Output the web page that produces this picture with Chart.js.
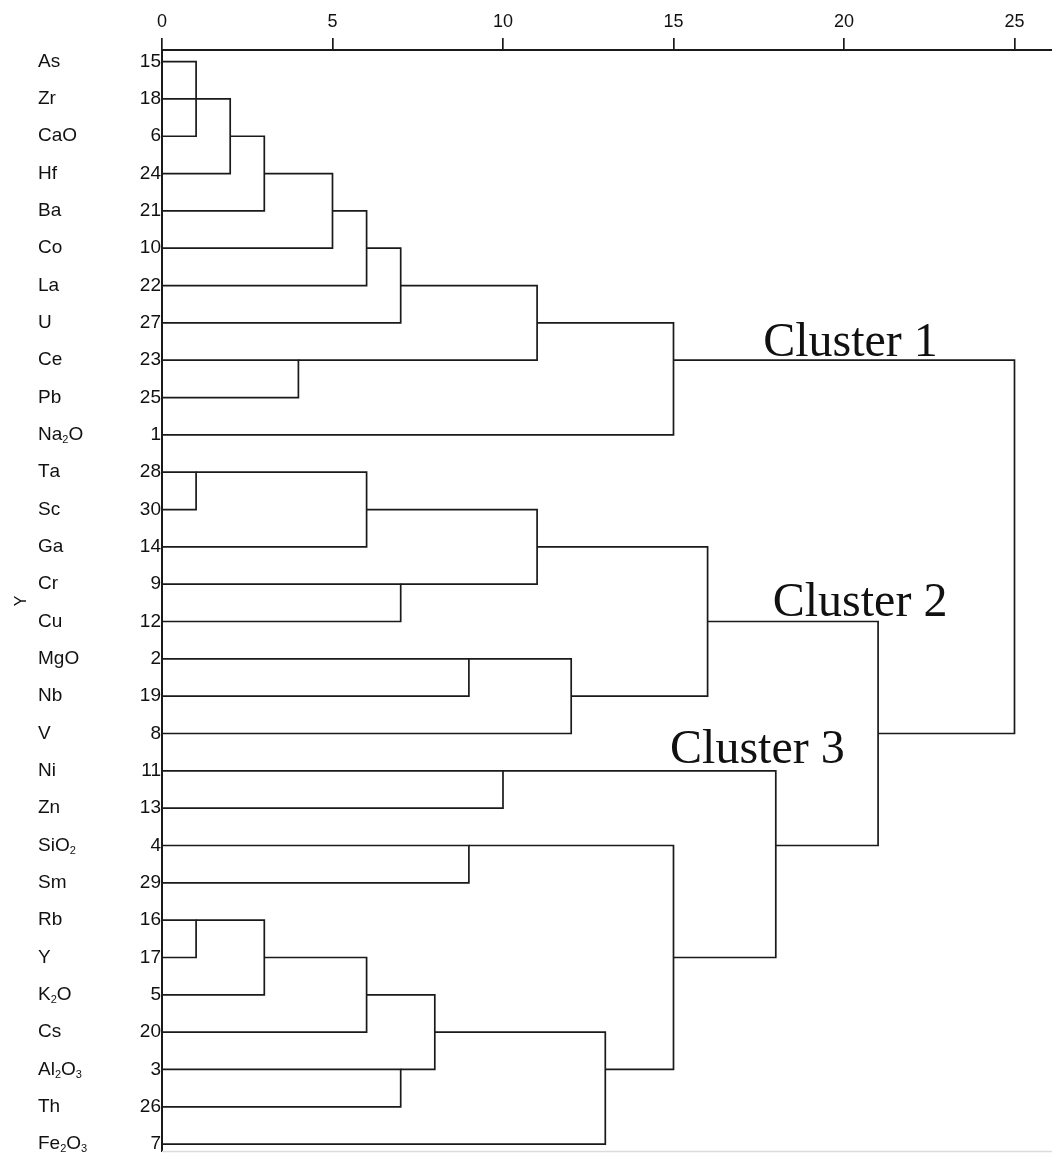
<!DOCTYPE html>
<html>
<head>
<meta charset="utf-8">
<script src="https://cdn.jsdelivr.net/npm/chart.js@4/dist/chart.umd.min.js"></script>
<style>
  html, body { margin: 0; padding: 0; background: #fff; }
  canvas { display: block; }
</style>
</head>
<body>
<canvas id="dendro" width="1052" height="1164"></canvas>
<script>
// Variables in dendrogram order (top to bottom) and their case numbers
const variables = ['As','Zr','CaO','Hf','Ba','Co','La','U','Ce','Pb','Na2O',
  'Ta','Sc','Ga','Cr','Cu','MgO','Nb','V','Ni','Zn','SiO2','Sm',
  'Rb','Y','K2O','Cs','Al2O3','Th','Fe2O3'];
const caseNumbers = [15,18,6,24,21,10,22,27,23,25,1,28,30,14,9,12,2,19,8,11,13,4,29,16,17,5,20,3,26,7];

// Rescaled distance axis ticks
const distanceTicks = [0, 5, 10, 15, 20, 25];

// Agglomeration steps: [left member, right member, rescaled distance]
// Members are variable names or '#k' for the cluster formed at step k
const merges = [
  ['As', 'CaO', 1],      // #0
  ['#0', 'Zr', 1],       // #1
  ['#1', 'Hf', 2],       // #2
  ['#2', 'Ba', 3],       // #3
  ['#3', 'Co', 5],       // #4
  ['#4', 'La', 6],       // #5
  ['#5', 'U', 7],        // #6
  ['Ce', 'Pb', 4],       // #7
  ['#6', '#7', 11],      // #8
  ['#8', 'Na2O', 15],    // #9
  ['Ta', 'Sc', 1],       // #10
  ['#10', 'Ga', 6],      // #11
  ['Cr', 'Cu', 7],       // #12
  ['#11', '#12', 11],    // #13
  ['MgO', 'Nb', 9],      // #14
  ['#14', 'V', 12],      // #15
  ['#13', '#15', 16],    // #16
  ['Ni', 'Zn', 10],      // #17
  ['SiO2', 'Sm', 9],     // #18
  ['Rb', 'Y', 1],        // #19
  ['#19', 'K2O', 3],     // #20
  ['#20', 'Cs', 6],      // #21
  ['Al2O3', 'Th', 7],    // #22
  ['#21', '#22', 8],     // #23
  ['#23', 'Fe2O3', 13],  // #24
  ['#18', '#24', 15],    // #25
  ['#17', '#25', 18],    // #26
  ['#16', '#26', 21],    // #27
  ['#9', '#27', 25]      // #28
];

const clusterNames = ['Cluster 1', 'Cluster 2', 'Cluster 3'];

// Each step becomes one bracket: child stubs joined by a vertical link
const nodes = {};
variables.forEach((v, i) => { nodes[v] = { row: i, height: 0 }; });
const LINE = '#1a1a1a';
const datasets = merges.map(([a, b, d], k) => {
  const A = nodes[a], B = nodes[b];
  nodes['#' + k] = { row: Math.floor((A.row + B.row) / 2), height: d };
  return {
    data: [
      { x: A.height, y: A.row },
      { x: d, y: A.row },
      { x: d, y: B.row },
      { x: B.height, y: B.row }
    ],
    showLine: true,
    borderColor: LINE,
    borderWidth: 1.7,
    pointRadius: 0,
    pointHoverRadius: 0,
    tension: 0,
    fill: false,
    clip: false
  };
});

const SANS = '"Liberation Sans", Arial, sans-serif';
const SERIF = '"Liberation Serif", "Times New Roman", serif';

// Variable names, with digits set as subscripts
function drawFormula(ctx, text, x, y) {
  let cx = x;
  for (const ch of text) {
    const sub = /[0-9]/.test(ch);
    ctx.font = sub ? '11px ' + SANS : '19px ' + SANS;
    ctx.fillText(ch, cx, sub ? y + 5 : y);
    cx += ctx.measureText(ch).width;
  }
}

const decorations = {
  id: 'decorations',
  beforeDraw(chart) {
    const ctx = chart.ctx;
    ctx.save();
    ctx.fillStyle = '#fff';
    ctx.fillRect(0, 0, chart.width, chart.height);
    ctx.restore();
  },
  afterDatasetsDraw(chart, args, opts) {
    const ctx = chart.ctx;
    const xs = chart.scales.x, ys = chart.scales.y;
    ctx.save();
    // faint lower frame line
    ctx.strokeStyle = '#dcdcdc';
    ctx.lineWidth = 1.5;
    ctx.beginPath();
    ctx.moveTo(chart.chartArea.left, chart.chartArea.bottom);
    ctx.lineTo(chart.chartArea.right, chart.chartArea.bottom);
    ctx.stroke();
    // cluster captions
    ctx.fillStyle = '#111';
    ctx.font = '48px ' + SERIF;
    ctx.textAlign = 'left';
    ctx.textBaseline = 'alphabetic';
    opts.captions.forEach((c, i) => {
      ctx.fillText(clusterNames[i], xs.getPixelForValue(c.x), ys.getPixelForValue(c.row));
    });
    // variable names
    ctx.fillStyle = '#111';
    ctx.textBaseline = 'middle';
    variables.forEach((v, i) => {
      drawFormula(ctx, v, opts.nameX, ys.getPixelForValue(i));
    });
    ctx.restore();
  }
};

new Chart(document.getElementById('dendro'), {
  type: 'scatter',
  data: { datasets },
  options: {
    responsive: false,
    animation: false,
    events: [],
    layout: { padding: { top: 0, left: 0, right: 0, bottom: 2 } },
    plugins: {
      legend: { display: false },
      tooltip: { enabled: false },
      decorations: {
        nameX: 38,
        captions: [
          { x: 17.63, row: 7.88 },
          { x: 17.91, row: 14.86 },
          { x: 14.9, row: 18.8 }
        ]
      }
    },
    scales: {
      x: {
        type: 'linear',
        position: 'top',
        min: 0,
        max: 26.1,
        afterBuildTicks: s => { s.ticks = distanceTicks.map(v => ({ value: v })); },
        afterFit: s => { s.height = 50; },
        ticks: {
          color: '#111',
          font: { family: SANS, size: 18 },
          padding: 5,
          maxRotation: 0,
          autoSkip: false
        },
        grid: {
          display: true,
          drawOnChartArea: false,
          drawTicks: true,
          tickLength: 12,
          color: LINE,
          lineWidth: 1.7
        },
        border: { display: true, color: LINE, width: 2 }
      },
      y: {
        type: 'linear',
        position: 'left',
        reverse: true,
        min: -0.31,
        max: 29.2,
        afterBuildTicks: s => { s.ticks = variables.map((v, i) => ({ value: i })); },
        afterFit: s => { s.width = 162; },
        ticks: {
          color: '#111',
          font: { family: SANS, size: 19 },
          padding: 1,
          autoSkip: false,
          callback: v => caseNumbers[v]
        },
        grid: { display: false, drawTicks: false },
        border: { display: true, color: LINE, width: 2 },
        title: {
          display: true,
          text: 'Y',
          color: '#111',
          font: { family: SANS, size: 16 },
          padding: { top: 12, bottom: 0 }
        }
      }
    }
  },
  plugins: [decorations]
});
</script>
</body>
</html>
